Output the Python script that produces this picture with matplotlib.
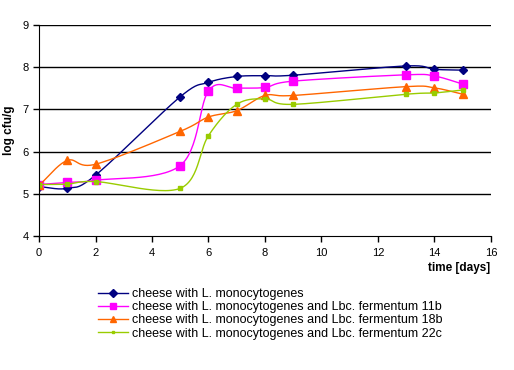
import numpy as np
import matplotlib
matplotlib.use('Agg')
import matplotlib.pyplot as plt

plt.rcParams['font.family'] = ['Liberation Sans', 'DejaVu Sans']

days = [0, 1, 2, 5, 6, 7, 8, 9, 13, 14, 15]
lm = [5.17, 5.13, 5.44, 7.30, 7.64, 7.78, 7.80, 7.81, 8.03, 7.95, 7.93]
lm_11b = [5.22, 5.27, 5.32, 5.67, 7.44, 7.50, 7.52, 7.67, 7.82, 7.79, 7.60]
lm_18b = [5.20, 5.79, 5.70, 6.48, 6.82, 6.97, 7.33, 7.33, 7.54, 7.51, 7.36]
lm_22c = [5.22, 5.23, 5.29, 5.13, 6.38, 7.12, 7.25, 7.12, 7.36, 7.39, 7.46]

labels = ['cheese with L. monocytogenes',
          'cheese with L. monocytogenes and Lbc. fermentum 11b',
          'cheese with L. monocytogenes and Lbc. fermentum 18b',
          'cheese with L. monocytogenes and Lbc. fermentum 22c']


def smooth(x, y, n=30):
    # catmull-rom style curve through the points, like excel's smoothed line
    x = np.asarray(x, float)
    y = np.asarray(y, float)
    px = np.concatenate([[2 * x[0] - x[1]], x, [2 * x[-1] - x[-2]]])
    py = np.concatenate([[2 * y[0] - y[1]], y, [2 * y[-1] - y[-2]]])
    xs, ys = [], []
    t = np.linspace(0, 1, n)
    for i in range(1, len(px) - 2):
        for arr, out in ((px, xs), (py, ys)):
            p0, p1, p2, p3 = arr[i - 1], arr[i], arr[i + 1], arr[i + 2]
            b0, b3 = p1, p2
            b1 = p1 + (p2 - p0) / 6
            b2 = p2 - (p3 - p1) / 6
            out.extend((1 - t) ** 3 * b0 + 3 * (1 - t) ** 2 * t * b1
                       + 3 * (1 - t) * t ** 2 * b2 + t ** 3 * b3)
    return xs, ys


fig = plt.figure(figsize=(5.14, 3.70), dpi=100)
ax = fig.add_axes([39 / 514, 1 - 236 / 370, 452 / 514, 211 / 370])

styles = [
    dict(color='#000080', marker='D', ms=4.5),
    dict(color='#FF00FF', marker='s', ms=5.5),
    dict(color='#FF6600', marker='^', ms=6),
    dict(color='#99CC00', marker='s', ms=2.5),
]
for ys, lab, st in zip([lm, lm_11b, lm_18b, lm_22c], labels, styles):
    sx, sy = smooth(days, ys)
    ax.plot(sx, sy, color=st['color'], lw=1)
    ax.plot(days, ys, ls='none', marker=st['marker'], ms=st['ms'],
            color=st['color'], mec=st['color'])
    ax.plot([], [], color=st['color'], lw=1, marker=st['marker'],
            ms=st['ms'] * 0.8, label=lab)

ax.set_xlim(0, 16)
ax.set_ylim(4, 9)
ax.set_xticks(range(0, 17, 2))
ax.set_yticks(range(4, 10))
for yv in range(5, 10):
    ax.axhline(yv, color='black', lw=1, zorder=0)
for s in ['top', 'right']:
    ax.spines[s].set_visible(False)
ax.tick_params(labelsize=8, length=4, direction='out', width=1)
ax.tick_params(axis='x', pad=5)

ax.set_ylabel('log cfu/g', fontsize=8.5, fontweight='bold', labelpad=5)
fig.text(490 / 514, 1 - 268 / 370, 'time [days]', fontsize=8.5,
         fontweight='bold', ha='right', va='center')

handles, labs = ax.get_legend_handles_labels()
fig.legend(handles, labs, loc='upper left', bbox_to_anchor=(98 / 514, 1 - 288 / 370),
           frameon=False, fontsize=9, handlelength=2.4, labelspacing=0.1,
           handletextpad=0.3, borderaxespad=0, borderpad=0)

fig.savefig('out.png', dpi=100)
